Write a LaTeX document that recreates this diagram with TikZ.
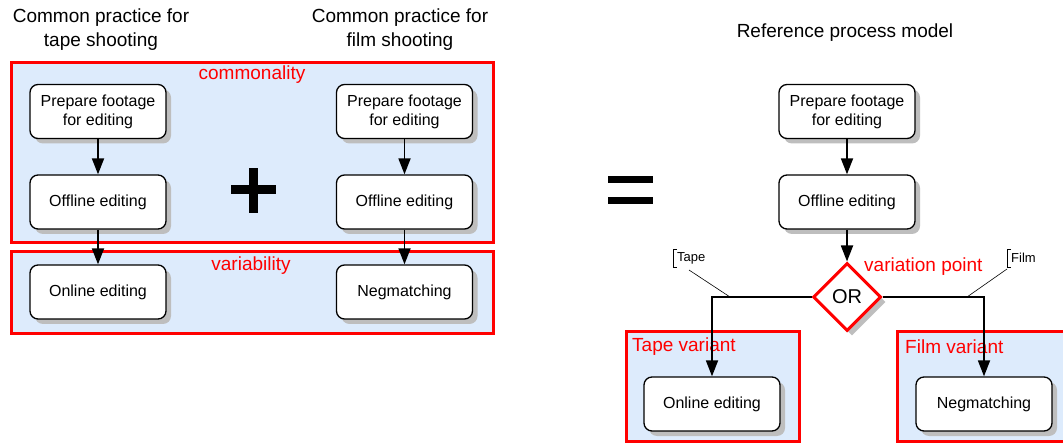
\documentclass[tikz,border=0pt]{standalone}
\usepackage{fontspec}
\setmainfont{Liberation Sans}
\usetikzlibrary{arrows.meta,shapes.geometric,shadows}
\definecolor{regionblue}{RGB}{221,235,252}
\definecolor{shadowgray}{RGB}{190,190,190}
\begin{document}
\begin{tikzpicture}[x=1pt,y=-1pt,
  shad/.style={drop shadow={shadow xshift=5pt,shadow yshift=-5pt,fill=shadowgray,opacity=1}},
  proc/.style={draw=black,line width=1.3pt,rounded corners=8pt,fill=white,
    minimum width=136pt,minimum height=54pt,align=center,inner sep=0pt,
    font=\fontsize{16}{19}\selectfont,shad},
  region/.style={draw=red,line width=3pt,fill=regionblue},
  redlbl/.style={text=red,font=\fontsize{19}{22}\selectfont,inner sep=0pt},
  title/.style={align=center,font=\fontsize{19}{24}\selectfont,inner sep=0pt},
  arr/.style={line width=1.8pt,-{Triangle[length=16pt,width=12pt]}},
  note/.style={font=\fontsize{13}{15}\selectfont,inner sep=0pt},
  thin line/.style={line width=0.6pt}]
\clip (0,0) rectangle (1063,443);
\useasboundingbox (0,0) rectangle (1063,443);
\fill[white] (0,0) rectangle (1063,443);

% titles
\node[title] (t1) at (101,30) {Common practice for\\tape shooting};
\node[title] (t2) at (400,30) {Common practice for\\film shooting};
\node[title] (t3) at (845,33) {Reference process model};

% regions left
\draw[region] (11,63) rectangle (493,243);
\draw[region] (11,252) rectangle (493,334);
\node[redlbl] (comm) at (252,75) {commonality};
\node[redlbl] (vari) at (251,266) {variability};

% left column
\node[proc] (lp) at (98,111.5) {Prepare footage\\for editing};
\node[proc] (lo) at (98,202) {Offline editing};
\node[proc] (ln) at (98,292) {Online editing};
% right column
\node[proc] (rp) at (404.5,111.5) {Prepare footage\\for editing};
\node[proc] (ro) at (404.5,202) {Offline editing};
\node[proc] (rn) at (404.5,292) {Negmatching};

\draw[arr] (lp) -- (lo);
\draw[arr] (lo) -- (ln);
\draw[arr] (rp) -- (ro);
\draw[arr] (ro) -- (rn);

% plus sign
\fill[black] (231,185.5) rectangle (276,194);
\fill[black] (249,168) rectangle (257.5,213);
% equals sign
\fill[black] (608,176) rectangle (653,183.5);
\fill[black] (608,197) rectangle (653,204);

% variant regions
\draw[region] (626,332) rectangle (799,441.5);
\draw[region] (897,332) rectangle (1080,441.5);
\node[redlbl,anchor=west] (tv) at (632,347) {Tape variant};
\node[redlbl,anchor=west] (fv) at (905,347) {Film variant};

% reference model
\node[proc] (mp) at (847,111.5) {Prepare footage\\for editing};
\node[proc] (mo) at (847,202) {Offline editing};
\node[diamond,draw=red,line width=3pt,fill=white,minimum width=68pt,minimum height=68pt,
  inner sep=0pt,font=\fontsize{20}{22}\selectfont,shad] (or) at (847,297) {OR};
\node[redlbl,anchor=west] (vp) at (864,267) {variation point};
\node[proc] (mn) at (712,404) {Online editing};
\node[proc] (mg) at (984,404) {Negmatching};

\draw[arr] (mp) -- (mo);
\draw[arr] (mo) -- (or);
\draw[arr] (or.west) -| (mn.north);
\draw[arr] (or.east) -| (mg.north);

% annotations
\coordinate (ta) at (730,297);
\coordinate (fa) at (967,297);
\node[note,anchor=west] (tn) at (677,258) {Tape};
\node[note,anchor=west] (fn) at (1011,258) {Film};
\draw[thin line] ([shift={(-4,-9)}]tn.west) -- ++(0,0) ++(4,0) -- ++(-4,0) -- ++(0,18) -- ++(4,0);
\draw[thin line] ([shift={(-4,-9)}]fn.west) ++(4,0) -- ++(-4,0) -- ++(0,18) -- ++(4,0);
\draw[thin line] ([shift={(12,12)}]tn.west) -- (ta);
\draw[thin line] ([shift={(-4,11)}]fn.west) -- (fa);
\end{tikzpicture}
\end{document}
